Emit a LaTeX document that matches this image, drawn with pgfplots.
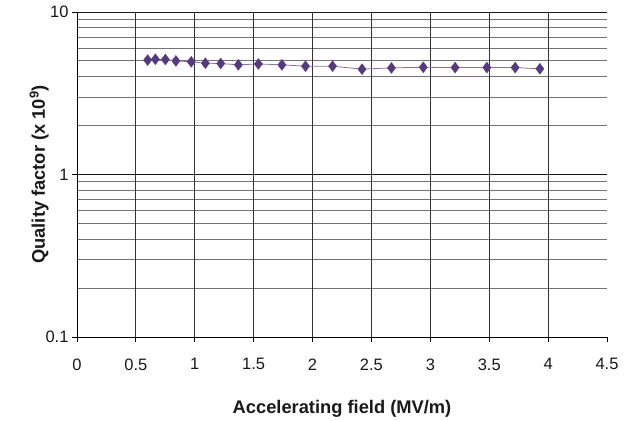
\documentclass[border=0pt]{standalone}
\usepackage{pgfplots}
\pgfplotsset{compat=1.18}
\usepackage{fontspec}
\setmainfont{Liberation Sans}
\definecolor{markc}{HTML}{553B7E}
\definecolor{linec}{HTML}{8573A6}
\begin{document}
\begin{tikzpicture}
\begin{axis}[
  name=ax,
  scale only axis,
  width=530pt, height=325pt,
  ymode=log,
  xmin=0, xmax=4.5,
  ymin=0.1, ymax=10,
  axis lines=left,
  axis line style={-, black, line width=0.9pt},
  xtick={0,0.5,1,1.5,2,2.5,3,3.5,4,4.5},
  xticklabels={0,0.5,1,1.5,2,2.5,3,3.5,4,4.5},
  ytick={0.1,1,10},
  yticklabels={0.1,1,10},
  minor ytick={0.2,0.3,0.4,0.5,0.6,0.7,0.8,0.9,2,3,4,5,6,7,8,9},
  tick align=outside,
  major tick length=5pt,
  minor tick length=0pt,
  tick style={black, line width=0.9pt},
  ymajorgrids=true, yminorgrids=true,
  major grid style={black!90, line width=0.9pt},
  minor grid style={black!55, line width=0.9pt},
  extra x ticks={0.5,1,1.5,2,2.5,3,3.5,4},
  extra x tick labels={},
  extra x tick style={grid=major, major grid style={black!80, line width=0.9pt}, major tick length=0pt},
  /pgf/number format/assume math mode=true,
  tick label style={font=\fontsize{16.5}{19}\selectfont, text=black!90},
  xticklabel style={yshift=-13pt},
  every axis x label/.style={at={([yshift=-76pt]axis description cs:0.5,0)}, anchor=base},
  every axis y label/.style={at={([xshift=-32pt]axis description cs:0,0.5)}, rotate=90, anchor=base},
  label style={font=\fontsize{18.3}{21}\selectfont\bfseries, text=black!90},
  xlabel={Accelerating field (MV/m)},
  ylabel={Quality factor (x 10\textsuperscript{9})},
]
\addplot[color=linec, line width=0.8pt, mark=diamond*, mark size=5.5pt,
  mark options={draw=markc, fill=markc, line width=0.3pt}] coordinates {
(0.60,5.06) (0.665,5.12) (0.75,5.10) (0.84,5.00) (0.97,4.94)
(1.09,4.84) (1.22,4.82) (1.37,4.73) (1.54,4.79) (1.74,4.73)
(1.94,4.64) (2.17,4.64) (2.42,4.45) (2.67,4.53) (2.94,4.57)
(3.21,4.55) (3.48,4.55) (3.72,4.55) (3.93,4.47)
};
\end{axis}
\pgfresetboundingbox
\useasboundingbox ([shift={(-77pt,-83pt)}]ax.south west) rectangle ([shift={(22pt,12pt)}]ax.north east);
\end{tikzpicture}
\end{document}
